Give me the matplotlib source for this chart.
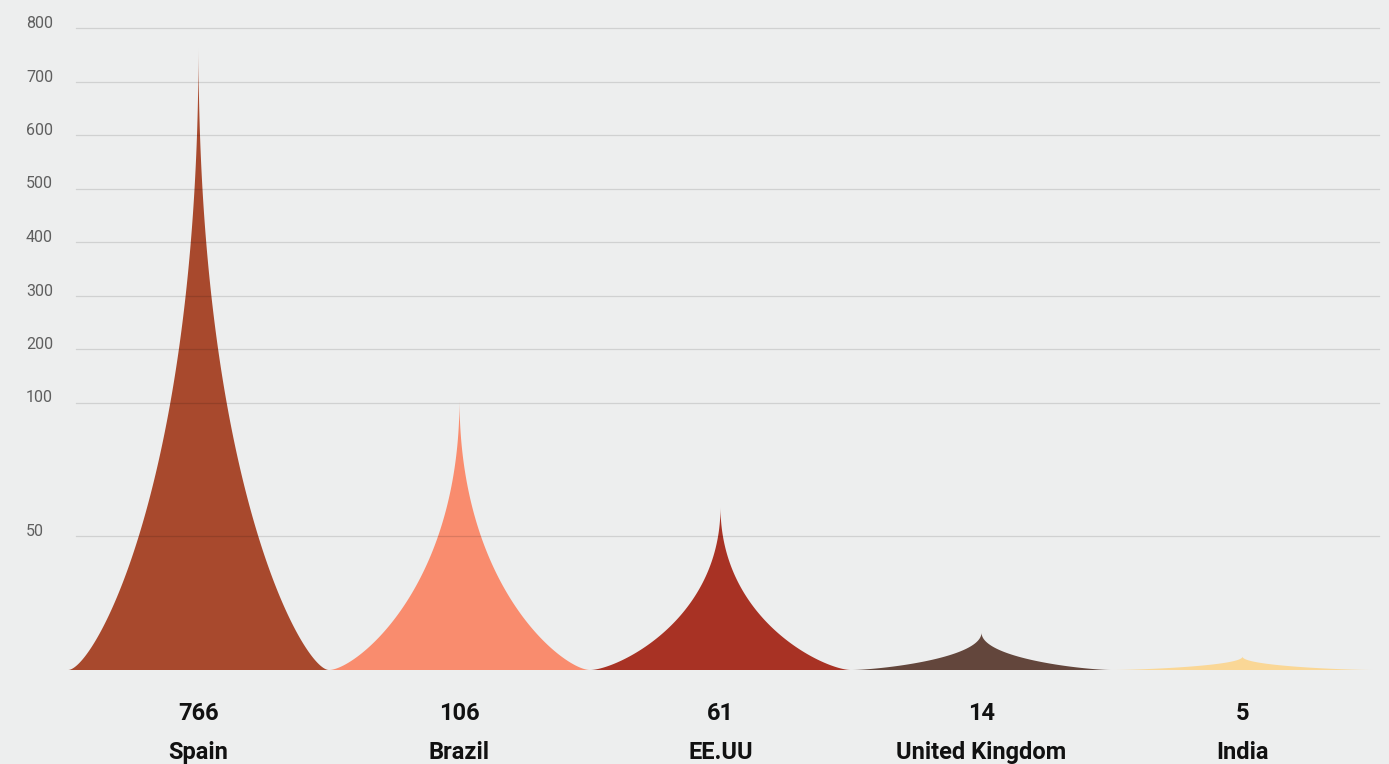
import numpy as np
import matplotlib
matplotlib.use("Agg")
import matplotlib.pyplot as plt

# ---- data ----
countries = ["Spain", "Brazil", "EE.UU", "United Kingdom", "India"]
values = [766, 106, 61, 14, 5]
value_labels = ["766", "106", "61", "14", "5"]
colors = ["#A8492D", "#F98C6E", "#A83224", "#63463C", "#FAD796"]
yticks = [50, 100, 200, 300, 400, 500, 600, 700, 800]

plt.rcParams['font.family'] = ['Roboto', 'DejaVu Sans']

W, H = 1389, 764
fig = plt.figure(figsize=(W / 100, H / 100), dpi=100)
bg = "#EDEEEE"
fig.patch.set_facecolor(bg)

ax_left, ax_w = 68, 1312
ax_bottom_px, ax_top_px = 670, 28
ax = fig.add_axes([ax_left / W, 1 - ax_bottom_px / H, ax_w / W, (ax_bottom_px - ax_top_px) / H])
ax.set_facecolor("none")


# broken (piecewise linear) value axis: 0-100 expanded, 100-800 compressed
def fwd(v):
    v = np.asarray(v, dtype=float)
    return np.where(v <= 100, v, 100 + (v - 100) / 5.0)


def inv(u):
    u = np.asarray(u, dtype=float)
    return np.where(u <= 100, u, 100 + (u - 100) * 5.0)


ax.set_yscale('function', functions=(fwd, inv))
ax.set_ylim(0, 800)
cat_w = 261.0
ax.set_xlim(-0.5, -0.5 + ax_w / cat_w)

# curved spike shape: cubic bezier, flat at the base, vertical at the tip
a, b = 0.2, 0.3
t = np.linspace(0, 1, 500)
half = 0.5 * ((1 - t) ** 3 + 3 * (1 - t) ** 2 * t * (1 - a))
frac = 3 * (1 - t) * t ** 2 * b + t ** 3
for i, (v, c) in enumerate(zip(values, colors)):
    top = float(fwd(v))
    ys = inv(frac * top)
    xs = np.concatenate([i - half, (i + half)[::-1]])
    yy = np.concatenate([ys, ys[::-1]])
    ax.fill(xs, yy, color=c, lw=0, zorder=2)

# grid lines (drawn on top, translucent)
gx0 = (76 - ax_left) / ax_w
gx1 = (1379 - ax_left) / ax_w
for tk in yticks:
    ax.axhline(tk, xmin=gx0, xmax=gx1, color="black", alpha=0.12, lw=0.9, zorder=3,
               clip_on=False)

# tick labels above the lines, at left
ytr = ax.get_yaxis_transform()
lx = (26 - ax_left) / ax_w
for tk in yticks:
    ax.text(lx, tk, str(tk), transform=ytr, ha="left", va="baseline",
            fontsize=11.5, color="#5f5f5f", clip_on=False)

# value and category labels
xtr = ax.get_xaxis_transform()
ph = ax_bottom_px - ax_top_px
for i, (lab, name) in enumerate(zip(value_labels, countries)):
    ax.text(i, (ax_bottom_px - 720) / ph, lab, transform=xtr, ha="center",
            va="baseline", fontsize=17, fontweight="bold", color="#111111")
    ax.text(i, (ax_bottom_px - 759) / ph, name, transform=xtr, ha="center",
            va="baseline", fontsize=17, fontweight="bold", color="#111111")

ax.set_xticks([])
ax.set_yticks([])
ax.minorticks_off()
for sp in ax.spines.values():
    sp.set_visible(False)

fig.savefig("out.png", dpi=100, facecolor=bg)
